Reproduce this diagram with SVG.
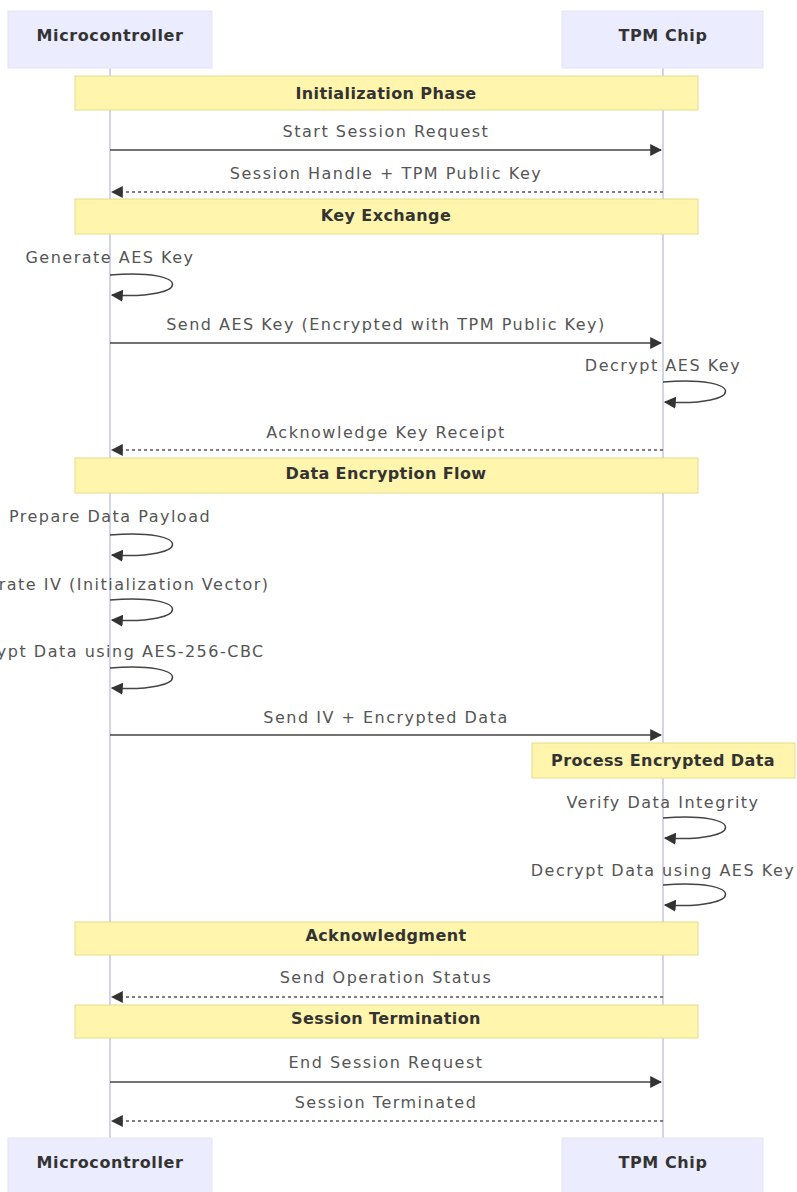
<svg xmlns="http://www.w3.org/2000/svg" width="797" height="1192" viewBox="0 0 797 1192">
<defs>
<marker id="ah" viewBox="0 0 10 10" refX="9" refY="5" markerWidth="12" markerHeight="12" markerUnits="userSpaceOnUse" orient="auto">
<path d="M0,0 L10,5 L0,10 z" fill="#333"/>
</marker>
<style>
.actor{fill:#ececff;stroke:#e4e4f4;stroke-width:1}
.atext{font-family:"DejaVu Sans",sans-serif;font-size:16px;font-weight:bold;fill:#333;text-anchor:middle;letter-spacing:0.6px}
.life{stroke:#d4d4e8;stroke-width:2}
.note{fill:#fff5ad;stroke:#e6dc8a;stroke-width:1}
.ntext{font-family:"DejaVu Sans",sans-serif;font-size:16px;font-weight:bold;fill:#333;text-anchor:middle;letter-spacing:0.4px}
.mtext{font-family:"DejaVu Sans",sans-serif;font-size:16px;fill:#555;text-anchor:middle;letter-spacing:1.5px}
.solid{stroke:#444;stroke-width:1.5;fill:none}
.dash{stroke:#555;stroke-width:1.5;fill:none;stroke-dasharray:3,3}
.loop{stroke:#444;stroke-width:1.5;fill:none}
</style>
</defs>
<rect width="797" height="1192" fill="#fff"/>
<g id="lifelines">
<line class="life" x1="110" y1="68" x2="110" y2="1138"/>
<line class="life" x1="663" y1="68" x2="663" y2="1138"/>
</g>
<g id="actor-mc-top"><rect class="actor" x="8" y="11" width="204" height="57"/><text class="atext" x="110" y="41">Microcontroller</text></g>
<g id="actor-tpm-top"><rect class="actor" x="562" y="11" width="201" height="57"/><text class="atext" x="663" y="41">TPM Chip</text></g>
<g id="actor-mc-bottom"><rect class="actor" x="8" y="1138" width="204" height="57"/><text class="atext" x="110" y="1168">Microcontroller</text></g>
<g id="actor-tpm-bottom"><rect class="actor" x="562" y="1138" width="201" height="57"/><text class="atext" x="663" y="1168">TPM Chip</text></g>
<g id="note-init"><rect class="note" x="75" y="76" width="623" height="34"/><text class="ntext" x="386" y="99">Initialization Phase</text></g>
<g id="note-key"><rect class="note" x="75" y="199" width="623" height="35"/><text class="ntext" x="386" y="221">Key Exchange</text></g>
<g id="note-data"><rect class="note" x="75" y="458" width="623" height="35"/><text class="ntext" x="386" y="479">Data Encryption Flow</text></g>
<g id="note-process"><rect class="note" x="532" y="743" width="263" height="35"/><text class="ntext" x="663" y="766">Process Encrypted Data</text></g>
<g id="note-ack"><rect class="note" x="75" y="922" width="623" height="33"/><text class="ntext" x="386" y="941">Acknowledgment</text></g>
<g id="note-term"><rect class="note" x="75" y="1005" width="623" height="33"/><text class="ntext" x="386" y="1024">Session Termination</text></g>
<g id="connectors">
<line class="solid" x1="110" y1="150" x2="661" y2="150" marker-end="url(#ah)"/>
<line class="dash" x1="663" y1="192" x2="112" y2="192" marker-end="url(#ah)"/>
<path class="loop" d="M110,275 C193,268 193,300 112,295" marker-end="url(#ah)"/>
<line class="solid" x1="110" y1="343" x2="661" y2="343" marker-end="url(#ah)"/>
<path class="loop" d="M663,382 C746,375 746,407 665,402" marker-end="url(#ah)"/>
<line class="dash" x1="663" y1="450" x2="112" y2="450" marker-end="url(#ah)"/>
<path class="loop" d="M110,535 C193,528 193,560 112,555" marker-end="url(#ah)"/>
<path class="loop" d="M110,600 C193,593 193,625 112,620" marker-end="url(#ah)"/>
<path class="loop" d="M110,668 C193,661 193,693 112,688" marker-end="url(#ah)"/>
<line class="solid" x1="110" y1="735" x2="661" y2="735" marker-end="url(#ah)"/>
<path class="loop" d="M663,818 C746,811 746,843 665,838" marker-end="url(#ah)"/>
<path class="loop" d="M663,885 C746,878 746,910 665,905" marker-end="url(#ah)"/>
<line class="dash" x1="663" y1="997" x2="112" y2="997" marker-end="url(#ah)"/>
<line class="solid" x1="110" y1="1082" x2="661" y2="1082" marker-end="url(#ah)"/>
<line class="dash" x1="663" y1="1121" x2="112" y2="1121" marker-end="url(#ah)"/>
</g>
<g id="labels">
<text class="mtext" x="386" y="137">Start Session Request</text>
<text class="mtext" x="386" y="179">Session Handle + TPM Public Key</text>
<text class="mtext" x="110" y="263">Generate AES Key</text>
<text class="mtext" x="386" y="330">Send AES Key (Encrypted with TPM Public Key)</text>
<text class="mtext" x="663" y="371">Decrypt AES Key</text>
<text class="mtext" x="386" y="438">Acknowledge Key Receipt</text>
<text class="mtext" x="110" y="522">Prepare Data Payload</text>
<text class="mtext" x="110" y="590">Generate IV (Initialization Vector)</text>
<text class="mtext" x="110" y="657">Encrypt Data using AES-256-CBC</text>
<text class="mtext" x="386" y="723">Send IV + Encrypted Data</text>
<text class="mtext" x="663" y="808">Verify Data Integrity</text>
<text class="mtext" x="663" y="876">Decrypt Data using AES Key</text>
<text class="mtext" x="386" y="983">Send Operation Status</text>
<text class="mtext" x="386" y="1068">End Session Request</text>
<text class="mtext" x="386" y="1108">Session Terminated</text>
</g>
</svg>
